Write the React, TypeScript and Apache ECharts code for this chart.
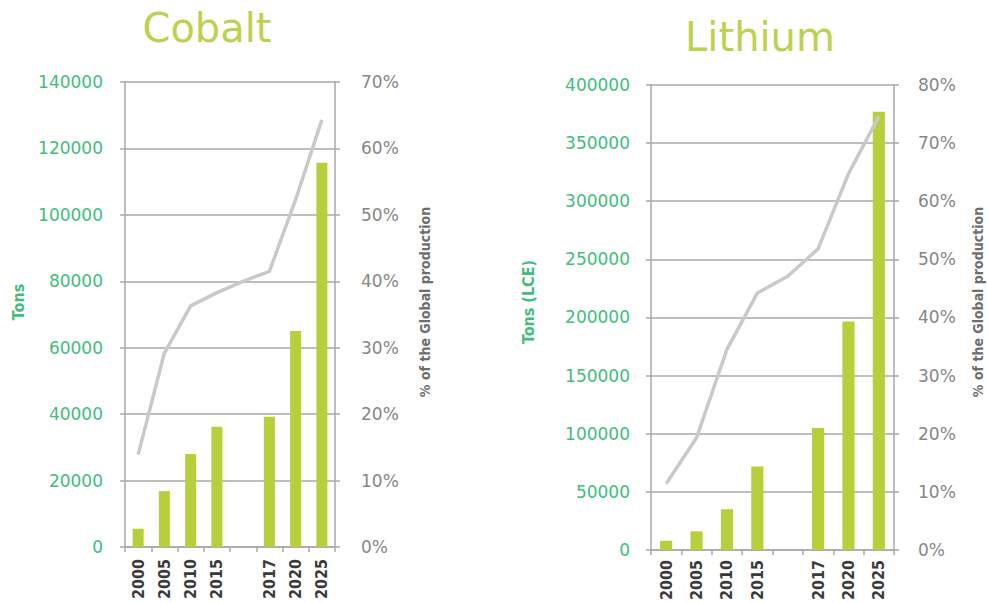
import React, { useEffect, useRef } from "react";
import * as echarts from "echarts";

const categories = ["2000", "2005", "2010", "2015", "", "2017", "2020", "2025"];
const cobaltTons = [5500, 16800, 28000, 36200, null, 39200, 65000, 115700];
const cobaltShare = [13.9, 29.2, 36.3, 38.3, 40.0, 41.5, 52.3, 64.3];
const lithiumTons = [7900, 16000, 35000, 71700, null, 105000, 196600, 377000];
const lithiumShare = [11.4, 19.3, 34.5, 44.2, 47.1, 51.8, 64.7, 74.6];

const titles = ["Cobalt", "Lithium"];
const leftNames = ["Tons", "Tons (LCE)"];
const rightName = "% of the Global production";

const GREEN = "#42bd7c";
const BAR = "#b8cf3c";
const LINE = "#c9c9c9";
const GRID = "#a9a9a9";
const GRAYTXT = "#868686";
const NARROW = "'Liberation Sans Narrow', 'DejaVu Sans Condensed', 'Arial Narrow', 'Liberation Sans', sans-serif";
const WIDE = "'DejaVu Sans', Verdana, sans-serif";

function xAxis(gridIndex: number, margin: number) {
  return {
    type: "category",
    gridIndex,
    data: categories,
    boundaryGap: true,
    axisLine: { show: true, lineStyle: { color: GRID, width: 1.5 } },
    axisTick: { show: true, interval: 0, length: 5, lineStyle: { color: GRID, width: 1.5 } },
    axisLabel: {
      interval: 0,
      rotate: 90,
      margin,
      color: "#3a3a3a",
      fontFamily: NARROW,
      fontWeight: "bold",
      fontSize: 16,
    },
  };
}

function leftAxis(gridIndex: number, max: number, interval: number, margin: number) {
  return {
    type: "value",
    gridIndex,
    min: 0,
    max,
    interval,
    position: "left",
    axisLine: { show: true, lineStyle: { color: GRID, width: 1.5 } },
    axisTick: { show: true, length: 5, lineStyle: { color: GRID, width: 1.5 } },
    splitLine: { show: true, lineStyle: { color: GRID, width: 1.5 } },
    axisLabel: {
      color: GREEN,
      fontFamily: WIDE,
      fontSize: 17,
      margin,
      formatter: (v: number) => String(v),
    },
  };
}

function rightAxis(gridIndex: number, max: number, margin: number) {
  return {
    type: "value",
    gridIndex,
    min: 0,
    max,
    interval: 10,
    position: "right",
    axisLine: { show: true, lineStyle: { color: GRID, width: 1.5 } },
    axisTick: { show: true, length: 5, lineStyle: { color: GRID, width: 1.5 } },
    splitLine: { show: false },
    axisLabel: { color: GRAYTXT, fontFamily: WIDE, fontSize: 17, margin, formatter: "{value}%" },
  };
}

function vText(text: string, x: number, y: number, color: string, fontSize: number) {
  return {
    type: "text",
    x,
    y,
    rotation: Math.PI / 2,
    style: {
      text,
      fill: color,
      font: `bold ${fontSize}px ${NARROW}`,
      align: "center",
      verticalAlign: "middle",
    },
  };
}

export default function App() {
  const ref = useRef<HTMLDivElement>(null);
  useEffect(() => {
    document.body.style.margin = "0";
    const chart = echarts.init(ref.current!, null, { renderer: "svg" });
    chart.setOption({
      animation: false,
      backgroundColor: "#ffffff",
      grid: [
        { left: 125, right: 988 - 335, top: 82, bottom: 603 - 547 },
        { left: 651, right: 988 - 894, top: 85, bottom: 603 - 557 },
      ],
      xAxis: [xAxis(0, 12), xAxis(1, 10)],
      yAxis: [
        leftAxis(0, 140000, 20000, 22),
        rightAxis(0, 70, 26),
        leftAxis(1, 400000, 50000, 21),
        rightAxis(1, 80, 24),
      ],
      series: [
        {
          type: "bar",
          xAxisIndex: 0,
          yAxisIndex: 0,
          data: cobaltTons,
          barWidth: "42%",
          itemStyle: { color: BAR },
        },
        {
          type: "line",
          xAxisIndex: 0,
          yAxisIndex: 1,
          data: cobaltShare,
          symbol: "none",
          lineStyle: { color: LINE, width: 3.5 },
        },
        {
          type: "bar",
          xAxisIndex: 1,
          yAxisIndex: 2,
          data: lithiumTons,
          barWidth: "40%",
          itemStyle: { color: BAR },
        },
        {
          type: "line",
          xAxisIndex: 1,
          yAxisIndex: 3,
          data: lithiumShare,
          symbol: "none",
          lineStyle: { color: LINE, width: 3.5 },
        },
      ],
      graphic: [
        {
          type: "text",
          x: 207,
          y: 28,
          style: {
            text: titles[0],
            fill: "#bcd24f",
            font: `40px ${WIDE}`,
            align: "center",
            verticalAlign: "middle",
          },
        },
        {
          type: "text",
          x: 760,
          y: 37,
          style: {
            text: titles[1],
            fill: "#bcd24f",
            font: `40px ${WIDE}`,
            align: "center",
            verticalAlign: "middle",
          },
        },
        vText(leftNames[0], 18, 302, GREEN, 16),
        vText(leftNames[1], 528, 302, GREEN, 16),
        vText(rightName, 425, 302, "#6e6e6e", 14),
        vText(rightName, 978, 302, "#6e6e6e", 14),
      ],
    });
    return () => chart.dispose();
  }, []);
  return <div ref={ref} style={{ width: 988, height: 603 }} />;
}
